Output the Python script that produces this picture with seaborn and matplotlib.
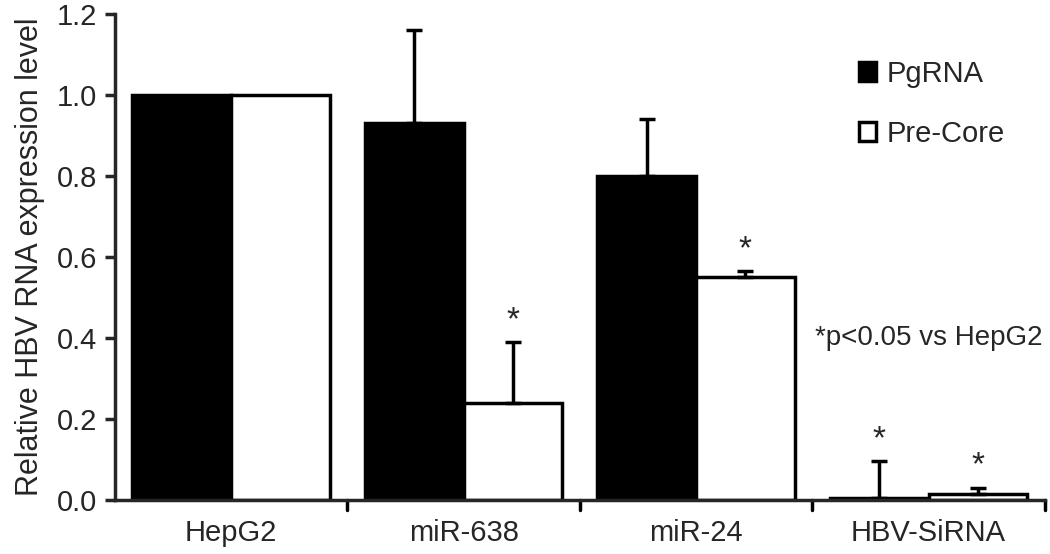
import seaborn as sns
import pandas as pd
import matplotlib.pyplot as plt
import numpy as np

groups = ["HepG2", "miR-638", "miR-24", "HBV-SiRNA"]
pgrna = [1.0, 0.93, 0.80, 0.005]
pgrna_err = [0.0, 0.23, 0.14, 0.09]
precore = [1.0, 0.24, 0.55, 0.015]
precore_err = [0.0, 0.15, 0.015, 0.015]
pgrna_star = [False, False, False, True]
precore_star = [False, True, True, True]
yticks = [0.0, 0.2, 0.4, 0.6, 0.8, 1.0, 1.2]

sns.set_style("white")
plt.rcParams['font.family'] = ['Liberation Sans', 'DejaVu Sans']
plt.rcParams['font.size'] = 21

df = pd.DataFrame({
    "group": groups * 2,
    "value": pgrna + precore,
    "series": ["PgRNA"] * 4 + ["Pre-Core"] * 4,
})

fig = plt.figure(figsize=(10.5, 5.54), dpi=100)
ax = fig.add_axes([0.1095, 0.0975, 0.8855, 0.8775])
sns.barplot(data=df, x="group", y="value", hue="series", order=groups,
            hue_order=["PgRNA", "Pre-Core"], palette=["black", "white"],
            width=0.85, gap=0, errorbar=None, edgecolor="black", linewidth=2.5,
            ax=ax)

lw = 2.5
for patches, vals, errs, stars in [(ax.containers[0], pgrna, pgrna_err, pgrna_star),
                                   (ax.containers[1], precore, precore_err, precore_star)]:
    for p, v, e, s in zip(patches, vals, errs, stars):
        xc = p.get_x() + p.get_width() / 2
        if e > 0:
            ax.errorbar(xc, v, yerr=[[0], [e]], fmt="none", ecolor="black",
                        elinewidth=lw, capsize=6, capthick=lw)
        if s:
            ax.text(xc, v + e + 0.015, "*", ha="center", va="bottom", fontsize=24)

ax.set_ylim(0, 1.2)
ax.set_xlim(-0.5, 3.5)
ax.set_yticks(yticks)
ax.set_yticklabels([f"{t:.1f}" for t in yticks])
ax.set_xticks(np.arange(len(groups)))
ax.set_xticklabels(groups)
ax.tick_params(axis="x", length=0, pad=14, labelsize=21)
ax.tick_params(axis="y", direction="out", length=7, width=lw, left=True,
               pad=6, labelsize=21)
for x in [0.5, 1.5, 2.5, 3.5]:
    ax.plot([x, x], [0, -0.025], color="black", lw=lw, clip_on=False)
ax.set_xlabel("")
ax.set_ylabel("Relative HBV RNA expression level", fontsize=22, labelpad=8)
ax.spines["top"].set_visible(False)
ax.spines["right"].set_visible(False)
ax.spines["left"].set_linewidth(lw)
ax.spines["bottom"].set_linewidth(lw)

handles, labels = ax.get_legend_handles_labels()
ax.legend(handles, labels, loc="upper right", bbox_to_anchor=(0.985, 0.96),
          frameon=False, fontsize=21, handlelength=0.6, handleheight=0.6,
          labelspacing=1.1, handletextpad=0.35)
ax.text(3.49, 0.4, "*p<0.05 vs HepG2", ha="right", va="center", fontsize=20)

fig.savefig("out.png", dpi=100)
